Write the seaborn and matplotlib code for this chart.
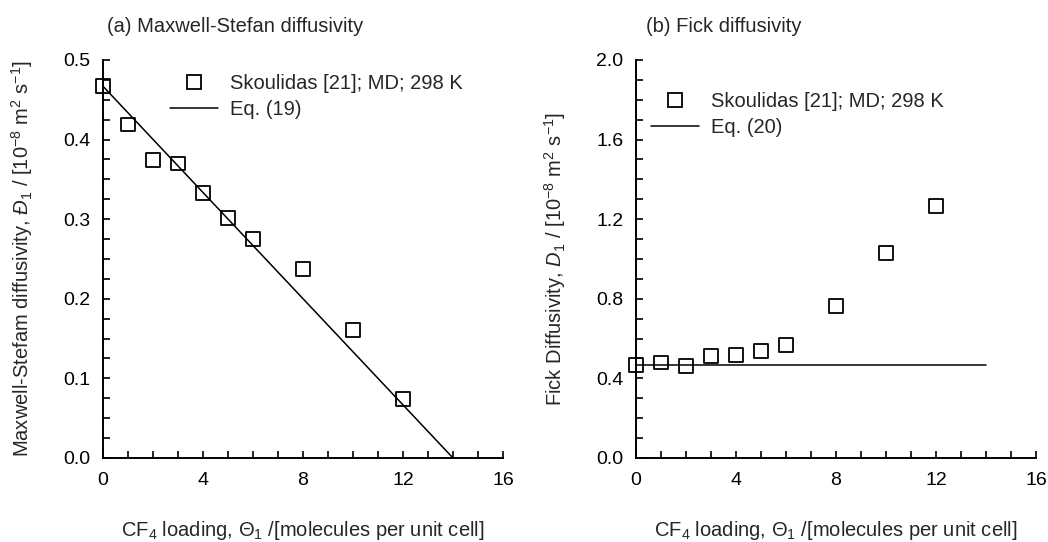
import numpy as np
import pandas as pd
import matplotlib
matplotlib.use("Agg")
import matplotlib.pyplot as plt
from matplotlib.ticker import MultipleLocator, FormatStrFormatter
from matplotlib.lines import Line2D
import seaborn as sns

# Data
loading = [0, 1, 2, 3, 4, 5, 6, 8, 10, 12]
ms_diff = [0.467, 0.419, 0.374, 0.370, 0.333, 0.302, 0.275, 0.237, 0.161, 0.074]
fick_diff = [0.467, 0.480, 0.463, 0.513, 0.518, 0.538, 0.570, 0.762, 1.028, 1.267]
eq_x = [0, 14]
eq19_y = [0.467, 0.0]
eq20_y = [0.467, 0.467]

sns.set_theme(style="ticks")
plt.rcParams['font.family'] = ['Liberation Sans', 'DejaVu Sans']
plt.rcParams['mathtext.fontset'] = 'custom'
plt.rcParams['mathtext.rm'] = 'Liberation Sans'
plt.rcParams['mathtext.it'] = 'Liberation Sans:italic'
plt.rcParams['mathtext.bf'] = 'Liberation Sans:bold'

FS = 14.5
TFS = 14

fig = plt.figure(figsize=(10.48, 5.42), dpi=100)
ax1 = fig.add_axes([103/1048, 84/542, 400/1048, 398/542])
ax2 = fig.add_axes([636/1048, 84/542, 400/1048, 398/542])

df = pd.DataFrame({"x": loading, "ms": ms_diff, "fick": fick_diff})
dl1 = pd.DataFrame({"x": eq_x, "y": eq19_y})
dl2 = pd.DataFrame({"x": eq_x, "y": eq20_y})

mk = dict(marker="s", s=100, facecolor="none", edgecolor="black", linewidth=1.3, zorder=3)

for ax, col, dl, ylim, major, minor, ylab, eqlab, title, tx, anchor in [
    (ax1, "ms", dl1, 0.5, 0.1, 0.025,
     r"Maxwell-Stefam diffusivity, $\mathit{Đ}_1$ / [10$^{-8}$ m$^2$ s$^{-1}$]",
     "Eq. (19)", "(a) Maxwell-Stefan diffusivity", 0.01, (0.1675, 0.965)),
    (ax2, "fick", dl2, 2.0, 0.4, 0.1,
     r"Fick Diffusivity, $\mathit{D}_1$ / [10$^{-8}$ m$^2$ s$^{-1}$]",
     "Eq. (20)", "(b) Fick diffusivity", 0.025, (0.0375, 0.92)),
]:
    sns.lineplot(data=dl, x="x", y="y", ax=ax, color="black", linewidth=1.1, zorder=2)
    sns.scatterplot(data=df, x="x", y=col, ax=ax, clip_on=False, **mk)
    ax.set_xlim(0, 16)
    ax.set_ylim(0, ylim)
    ax.xaxis.set_major_locator(MultipleLocator(4))
    ax.xaxis.set_minor_locator(MultipleLocator(1))
    ax.yaxis.set_major_locator(MultipleLocator(major))
    ax.yaxis.set_minor_locator(MultipleLocator(minor))
    ax.yaxis.set_major_formatter(FormatStrFormatter("%.1f"))
    ax.tick_params(which="both", direction="in", length=5, width=1.2, color="black",
                   labelsize=TFS, labelcolor="black")
    ax.tick_params(axis="x", which="both", pad=10)
    ax.tick_params(axis="y", which="both", pad=9)
    for s in ["top", "right"]:
        ax.spines[s].set_visible(False)
    for s in ["left", "bottom"]:
        ax.spines[s].set_linewidth(1.4)
        ax.spines[s].set_color("black")
    ax.set_xlabel(r"CF$_4$ loading, $\Theta_1$ /[molecules per unit cell]", fontsize=FS, labelpad=22)
    ax.set_ylabel(ylab, fontsize=FS, labelpad=20)
    ax.set_title(title, fontsize=FS, loc="left", x=tx, y=1.0, pad=20)
    handles = [
        Line2D([], [], marker="s", linestyle="none", markerfacecolor="none",
               markeredgecolor="black", markersize=9.5, markeredgewidth=1.3),
        Line2D([], [], color="black", linewidth=1.1),
    ]
    ax.legend(handles, ["Skoulidas [21]; MD; 298 K", eqlab], frameon=False, fontsize=FS,
              loc="upper left", bbox_to_anchor=anchor,
              handlelength=2.4, handletextpad=0.6, labelspacing=0.35,
              borderaxespad=0, borderpad=0)

fig.savefig("out.png", dpi=100)
